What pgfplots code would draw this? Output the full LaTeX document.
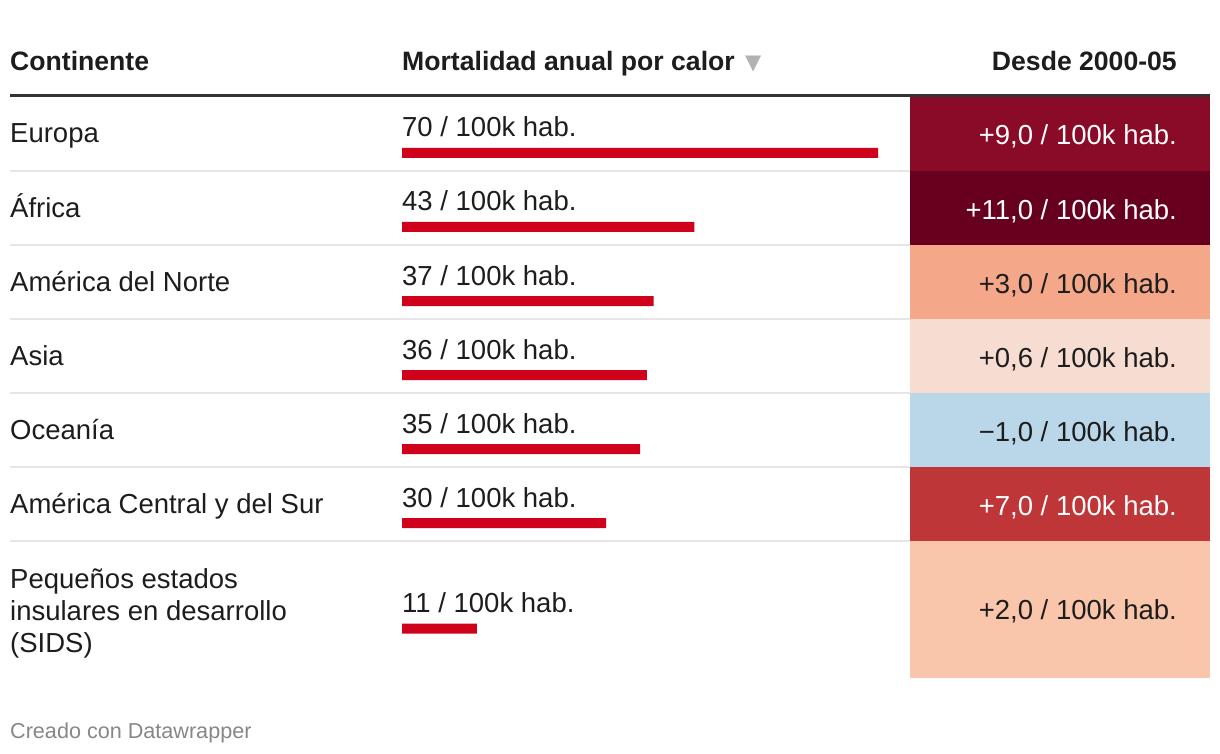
\documentclass[border=0pt]{standalone}
\usepackage{pgfplots}
\pgfplotsset{compat=1.18}
\usepackage{fontspec}
\setmainfont{Liberation Sans}
\newfontfamily\symfont{DejaVu Sans}
\definecolor{txt}{HTML}{1D1D1D}
\definecolor{barred}{HTML}{D0021B}
\definecolor{sep}{HTML}{E6E6E6}
\definecolor{hdr}{HTML}{333333}
\definecolor{cEU}{HTML}{8A0B27}
\definecolor{cAF}{HTML}{67001F}
\definecolor{cNA}{HTML}{F4A889}
\definecolor{cAS}{HTML}{F6DCD1}
\definecolor{cOC}{HTML}{B9D7E9}
\definecolor{cLA}{HTML}{BF3639}
\definecolor{cSI}{HTML}{F9C5AB}
\newcommand{\bodyfont}{\fontsize{27.5}{32}\selectfont}
\newcommand{\hdrfont}{\fontsize{26.6}{32}\selectfont\bfseries}
\begin{document}
\begin{tikzpicture}
\pgfplotsset{base/.style={width=1220pt,height=754pt,scale only axis,hide axis,clip=false,
  ymin=0,ymax=754,y dir=reverse}}
% layout axis in pixel units
\begin{axis}[base,xmin=0,xmax=1220]
\fill[white] (axis cs:0,0) rectangle (axis cs:1220,754);
% separators
\foreach \yy in {171,245,319,393,467,541}{
  \edef\tmp{\noexpand\draw[sep,line width=1.2pt] (axis cs:10,\yy) -- (axis cs:1210,\yy);}\tmp}
% colored cells (Desde 2000-05)
\addplot[fill=cEU,draw=none] coordinates {(910,97) (1210,97) (1210,171) (910,171)} -- cycle;
\addplot[fill=cAF,draw=none] coordinates {(910,171) (1210,171) (1210,245) (910,245)} -- cycle;
\addplot[fill=cNA,draw=none] coordinates {(910,245) (1210,245) (1210,319) (910,319)} -- cycle;
\addplot[fill=cAS,draw=none] coordinates {(910,319) (1210,319) (1210,393) (910,393)} -- cycle;
\addplot[fill=cOC,draw=none] coordinates {(910,393) (1210,393) (1210,467) (910,467)} -- cycle;
\addplot[fill=cLA,draw=none] coordinates {(910,467) (1210,467) (1210,541) (910,541)} -- cycle;
\addplot[fill=cSI,draw=none] coordinates {(910,541) (1210,541) (1210,678) (910,678)} -- cycle;
% header
\draw[hdr,line width=3.5pt] (axis cs:10,95.5) -- (axis cs:1210,95.5);
\node[anchor=base west,inner sep=0,text=txt,font=\hdrfont] at (axis cs:10,71) {Continente};
\node[anchor=base west,inner sep=0,text=txt,font=\hdrfont] at (axis cs:402,71) {Mortalidad anual por calor};
\node[anchor=base west,inner sep=0,text=black!30,font=\symfont\fontsize{21}{21}\selectfont] at (axis cs:745,70) {▼};
\node[anchor=base east,inner sep=0,text=txt,font=\hdrfont] at (axis cs:1177,71) {Desde 2000-05};
% row labels
\node[anchor=base west,inner sep=0,text=txt,font=\bodyfont] at (axis cs:10,143) {Europa};
\node[anchor=base west,inner sep=0,text=txt,font=\bodyfont] at (axis cs:10,217) {África};
\node[anchor=base west,inner sep=0,text=txt,font=\bodyfont] at (axis cs:10,291) {América del Norte};
\node[anchor=base west,inner sep=0,text=txt,font=\bodyfont] at (axis cs:10,365) {Asia};
\node[anchor=base west,inner sep=0,text=txt,font=\bodyfont] at (axis cs:10,439) {Oceanía};
\node[anchor=base west,inner sep=0,text=txt,font=\bodyfont] at (axis cs:10,513) {América Central y del Sur};
\node[anchor=base west,inner sep=0,text=txt,font=\bodyfont] at (axis cs:10,588) {Pequeños estados};
\node[anchor=base west,inner sep=0,text=txt,font=\bodyfont] at (axis cs:10,620) {insulares en desarrollo};
\node[anchor=base west,inner sep=0,text=txt,font=\bodyfont] at (axis cs:10,652) {(SIDS)};
% value labels
\node[anchor=base west,inner sep=0,text=txt,font=\bodyfont] at (axis cs:402,137) {70 / 100k hab.};
\node[anchor=base west,inner sep=0,text=txt,font=\bodyfont] at (axis cs:402,211) {43 / 100k hab.};
\node[anchor=base west,inner sep=0,text=txt,font=\bodyfont] at (axis cs:402,285) {37 / 100k hab.};
\node[anchor=base west,inner sep=0,text=txt,font=\bodyfont] at (axis cs:402,359) {36 / 100k hab.};
\node[anchor=base west,inner sep=0,text=txt,font=\bodyfont] at (axis cs:402,433) {35 / 100k hab.};
\node[anchor=base west,inner sep=0,text=txt,font=\bodyfont] at (axis cs:402,507) {30 / 100k hab.};
\node[anchor=base west,inner sep=0,text=txt,font=\bodyfont] at (axis cs:402,612) {11 / 100k hab.};
% change labels
\node[anchor=base east,inner sep=0,text=white,font=\bodyfont] at (axis cs:1177,145) {+9,0 / 100k hab.};
\node[anchor=base east,inner sep=0,text=white,font=\bodyfont] at (axis cs:1177,219) {+11,0 / 100k hab.};
\node[anchor=base east,inner sep=0,text=txt,font=\bodyfont] at (axis cs:1177,293) {+3,0 / 100k hab.};
\node[anchor=base east,inner sep=0,text=txt,font=\bodyfont] at (axis cs:1177,367) {+0,6 / 100k hab.};
\node[anchor=base east,inner sep=0,text=txt,font=\bodyfont] at (axis cs:1177,441) {−1,0 / 100k hab.};
\node[anchor=base east,inner sep=0,text=white,font=\bodyfont] at (axis cs:1177,515) {+7,0 / 100k hab.};
\node[anchor=base east,inner sep=0,text=txt,font=\bodyfont] at (axis cs:1177,619) {+2,0 / 100k hab.};
% footer
\node[anchor=base west,inner sep=0,text=black!47,font=\fontsize{21.6}{26}\selectfont] at (axis cs:10,738) {Creado con Datawrapper};
\end{axis}
% bar axis in data units: 0 at px 402, 70 at px 878
\begin{axis}[base,xmin=-59.1176,xmax=120.2941,xbar,bar width=10]
\addplot[fill=barred,draw=none] coordinates {(70,153) (43,227) (37,301) (36,375) (35,449) (30,523) (11,628.5)};
\end{axis}
\end{tikzpicture}
\end{document}
